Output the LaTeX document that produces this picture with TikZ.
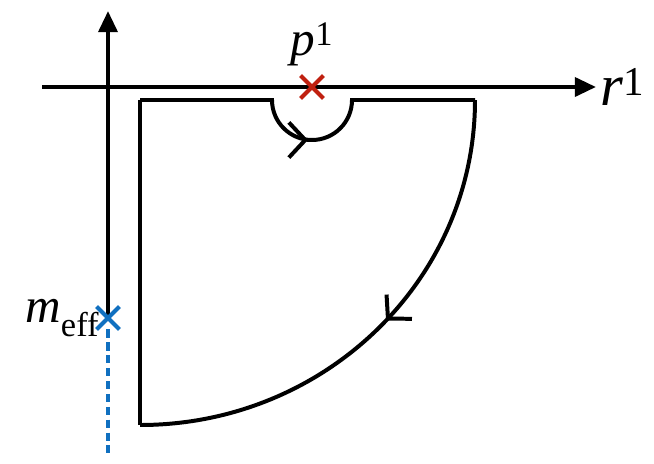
\documentclass[tikz,border=0pt]{standalone}
\usepackage{fontspec}
\setmainfont{Liberation Serif}
\newfontfamily\labelfont{Liberation Serif}
\usetikzlibrary{arrows.meta, shapes.misc, decorations.markings}
\definecolor{polered}{RGB}{192,32,16}
\definecolor{massblue}{RGB}{16,112,192}
\tikzset{
  axis/.style={line width=3.6pt, -{Triangle[length=18pt,width=16pt]}},
  contour/.style={line width=3.4pt, line join=miter},
  crossmark/.style={cross out, draw, line width=3.6pt, minimum size=16pt, inner sep=0pt},
  midarrow/.style={postaction={decorate}, decoration={markings,
    mark=at position #1 with {\arrow{Straight Barb[length=14pt,width=30pt,line width=3.4pt]}}}}
}
\begin{document}
\begin{tikzpicture}[x=0.03cm, y=0.03cm, font=\labelfont\fontsize{42}{46}\selectfont]
  \useasboundingbox (0,0) rectangle (654,463);
  % axes
  \coordinate (xs) at (42,376);
  \coordinate (xe) at (596,376);
  \coordinate (ys) at (108,143);
  \coordinate (ye) at (108,452);
  \coordinate (yd) at (108,10);
  \draw[axis] (xs) -- (xe);
  \draw[axis] (ys) -- (ye);
  \node[right=0pt, font=\labelfont\fontsize{50}{54}\selectfont] (rlab) at (xe) {\textit{r}\textsuperscript{1}};
  % poles
  \node[crossmark, color=polered] (pole) at (312,376) {};
  \node[above=14pt] (plab) at (pole) {\textit{p}\textsuperscript{1}};
  \node[crossmark, color=massblue] (meff) at (108,145) {};
  \node[left=4pt] (mlab) at (meff) {\textit{m}\textsubscript{eff}};
  \draw[massblue, line width=3.6pt, dash pattern=on 7pt off 4pt] (meff) -- (yd);
  % contour
  \draw[contour] (140,363) -- (272,363)
    arc[start angle=180, end angle=360, radius=40] -- (475,363);
  \draw[contour, midarrow=0.5] (307,323) -- (309,323);
  \draw[contour, midarrow=0.47] (475,363)
    arc[start angle=0, end angle=-90, x radius=335, y radius=325];
  \draw[contour] (140,38) -- (140,363);
\end{tikzpicture}
\end{document}
